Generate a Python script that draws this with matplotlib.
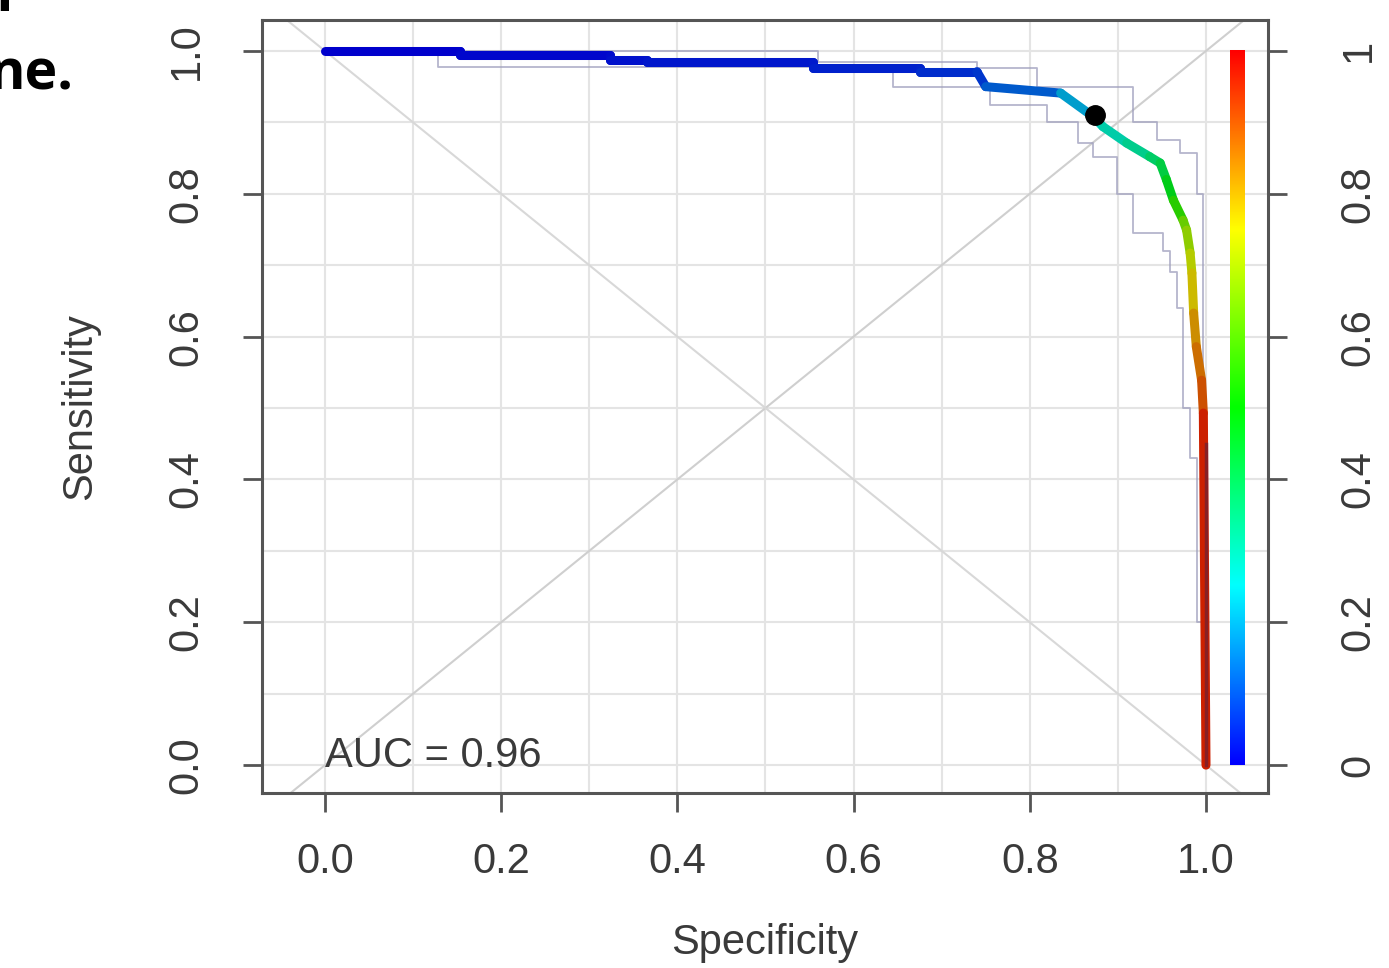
import numpy as np
import matplotlib
matplotlib.use('Agg')
import matplotlib.pyplot as plt
from matplotlib.collections import LineCollection
from matplotlib.colors import ListedColormap, hsv_to_rgb

plt.rcParams['font.family'] = ['Liberation Sans', 'DejaVu Sans']

# ROC curve (specificity, sensitivity) and cutoff colour value at each vertex
spec = [0.0, 0.153, 0.153, 0.323, 0.323, 0.365, 0.365, 0.554, 0.554, 0.675, 0.675,
        0.740, 0.750, 0.835, 0.872, 0.883, 0.910, 0.936, 0.948, 0.955, 0.963,
        0.974, 0.978, 0.982, 0.984, 0.986, 0.989, 0.995, 0.997, 1.0]
sens = [1.0, 1.0, 0.994, 0.994, 0.987, 0.987, 0.984, 0.984, 0.976, 0.976, 0.971,
        0.971, 0.950, 0.941, 0.908, 0.894, 0.871, 0.852, 0.843, 0.820, 0.791,
        0.763, 0.749, 0.717, 0.689, 0.633, 0.586, 0.539, 0.493, 0.0]
cutoff = [0.0, 0.0, 0.01, 0.01, 0.02, 0.02, 0.03, 0.03, 0.04, 0.04, 0.05,
          0.06, 0.08, 0.14, 0.25, 0.28, 0.31, 0.35, 0.40, 0.44, 0.50,
          0.60, 0.65, 0.70, 0.74, 0.80, 0.85, 0.88, 0.92, 1.0]

# confidence band (step lines)
lower_spec = [0.0, 0.128, 0.645, 0.755, 0.82, 0.855, 0.872, 0.899, 0.917, 0.951,
              0.959, 0.967, 0.974, 0.982, 0.99, 1.0]
lower_sens = [1.0, 0.978, 0.95, 0.925, 0.90, 0.871, 0.852, 0.80, 0.745, 0.72,
              0.69, 0.64, 0.50, 0.43, 0.20, 0.0]
upper_spec = [0.0, 0.56, 0.74, 0.808, 0.917, 0.944, 0.971, 0.99, 0.997, 1.0]
upper_sens = [1.0, 0.985, 0.976, 0.95, 0.90, 0.875, 0.857, 0.80, 0.50, 0.0]

best_point = (0.874, 0.910)
auc = 0.96

ticks = [0.0, 0.2, 0.4, 0.6, 0.8, 1.0]
tick_labels = ['0.0', '0.2', '0.4', '0.6', '0.8', '1.0']
cbar_labels = ['0', '0.2', '0.4', '0.6', '0.8', '1']
grid_pos = np.arange(0, 11) / 10

# rainbow palette blue -> red, like R's rainbow(end=4/6) reversed
hues = np.linspace(2 / 3, 0, 256)
rainbow = ListedColormap(hsv_to_rgb(np.column_stack([hues, np.ones(256), np.ones(256)])))

fig = plt.figure(figsize=(13.89, 9.68), dpi=100)
ax = fig.add_axes([0.1886, 0.1808, 0.7243, 0.7986])
xlim = (-0.0715, 1.0704)
ylim = (-0.039, 1.0434)

txt = '#3a3a3a'
for g in grid_pos:
    ax.axvline(g, color='#e4e4e4', lw=1.5, zorder=0)
    ax.axhline(g, color='#e4e4e4', lw=1.5, zorder=0)

ax.axline((0, 0), (1, 1), color='#cfcfcf', lw=1.5, zorder=1)
ax.axline((0, 1), (1, 0), color='#d8d8d8', lw=1.5, zorder=1)

ci_col = '#9c9cbc'
ax.step(lower_spec, lower_sens, where='post', color=ci_col, lw=1.3, alpha=0.75, zorder=2)
ax.step(upper_spec, upper_sens, where='post', color=ci_col, lw=1.3, alpha=0.75, zorder=2)

pts = np.column_stack([spec, sens])
segs = np.stack([pts[:-1], pts[1:]], axis=1)
cvals = (np.array(cutoff[:-1]) + np.array(cutoff[1:])) / 2
cols = rainbow(cvals)
cols[:, :3] *= 0.8
lc = LineCollection(segs, colors=cols, linewidths=6.5, capstyle='round', joinstyle='round', zorder=3)
ax.add_collection(lc)

ax.plot([1.0, 1.0], [0.0, 0.45], color='#5a2040', lw=2.5, alpha=0.6, zorder=4)

ax.plot(*best_point, 'o', color='black', ms=14, zorder=5)

gradient = np.linspace(0, 1, 256).reshape(-1, 1)
ax.imshow(gradient, extent=[1.027, 1.043, 0, 1], origin='lower', cmap=rainbow,
          aspect='auto', zorder=3)

ax.text(0.0, -0.003, 'AUC = %.2f' % auc, fontsize=30, color=txt, ha='left', va='baseline')

ax.set_xlim(*xlim)
ax.set_ylim(*ylim)
ax.set_xticks(ticks)
ax.set_xticklabels(tick_labels)
ax.set_yticks(ticks)
ax.set_yticklabels(tick_labels, rotation=90, va='center')
ax.tick_params(axis='both', direction='out', length=14, width=2, color='#555555',
               labelsize=30, labelcolor=txt)
ax.tick_params(axis='x', pad=21)
ax.tick_params(axis='y', pad=26)
for s in ax.spines.values():
    s.set_color('#555555')
    s.set_linewidth(2.2)

ax2 = ax.twinx()
ax2.set_ylim(*ylim)
ax2.set_yticks(ticks)
ax2.set_yticklabels(cbar_labels, rotation=90, va='center')
ax2.tick_params(axis='y', direction='out', length=14, width=2, color='#555555',
                labelsize=30, labelcolor=txt, pad=37)
for s in ax2.spines.values():
    s.set_visible(False)

ax.set_xlabel('Specificity', fontsize=30, color=txt, labelpad=30)
ax.set_ylabel('Sensitivity', fontsize=30, color=txt, labelpad=48)

# cropped caption text from the surrounding page
fig.text(22 / 1389, 1 - 12 / 968, 'or', fontsize=40, fontweight='bold',
         family='Open Sans', ha='right', va='baseline')
fig.text(74 / 1389, 1 - 90 / 968, 'ne.', fontsize=40, fontweight='bold',
         family='Open Sans', ha='right', va='baseline')

fig.savefig('out.png', dpi=100)
